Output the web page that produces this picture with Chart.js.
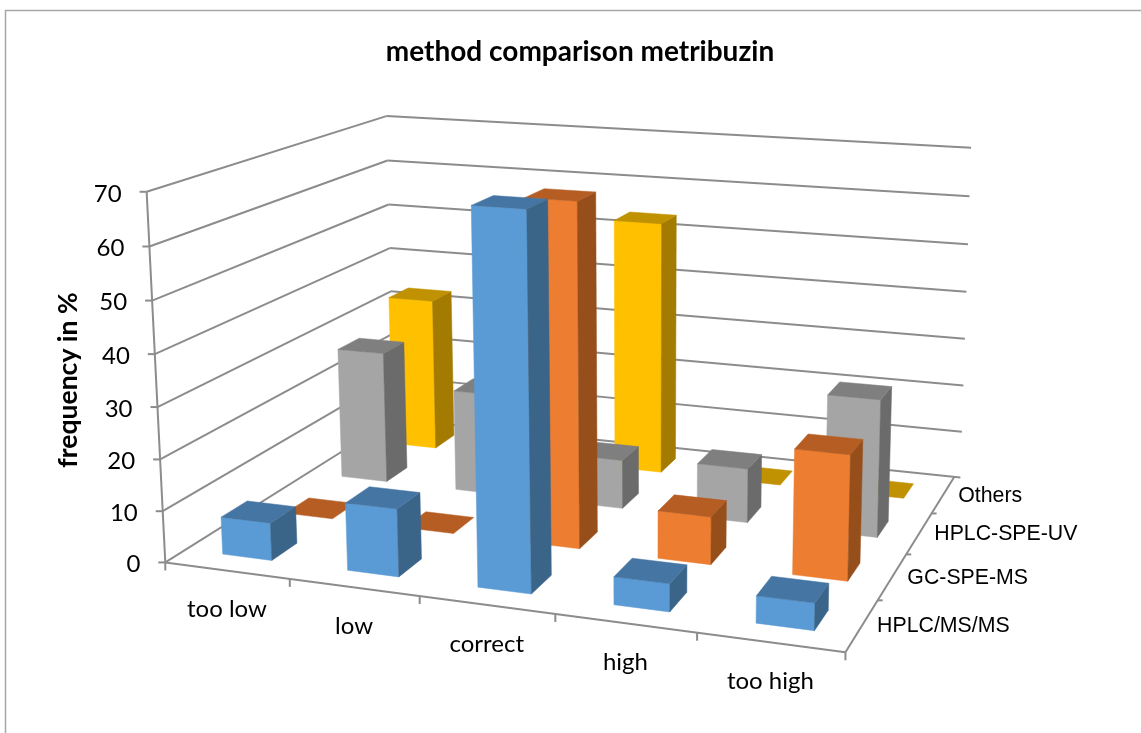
<!DOCTYPE html>
<html>
<head>
<meta charset="utf-8">
<title>method comparison metribuzin</title>
<script src="https://cdn.jsdelivr.net/npm/chart.js@4/dist/chart.umd.min.js"></script>
<style>
    html, body { margin: 0; padding: 0; background: #fff; }
    canvas { display: block; }
</style>
</head>
<body>
<canvas id="chart" width="1141" height="733"></canvas>
<script>
// Chart values
const categories = ['too low', 'low', 'correct', 'high', 'too high'];
const seriesNames = ['HPLC/MS/MS', 'GC-SPE-MS', 'HPLC-SPE-UV', 'Others'];
const hplcMsMs = [7.3, 13, 70, 5.2, 5];
const gcSpeMs = [0, 0, 67, 9.3, 24];
const hplcSpeUv = [27.5, 21, 10, 11, 27.5];
const others = [33, 0, 53.5, 0, 0];
const valueTicks = [0, 10, 20, 30, 40, 50, 60, 70];

// front, top, side colours of each series
const faceColors = [
    ['#5B9BD5', '#4575A3', '#3B6489'],
    ['#ED7D31', '#B55D23', '#964F1B'],
    ['#A5A5A5', '#7F7F7F', '#6B6B6B'],
    ['#FFC000', '#C09100', '#A37B00']
];
const gridColor = '#8C8C8C';

// Camera fit: where the plot box corners land on the page (across, depth, height -> px)
const frameAnchors = [
    [0, 0, 0, 165.7, 562.7], [0.2, 0, 0, 290, 580], [0.4, 0, 0, 419.3, 596.7],
    [0.6, 0, 0, 554.7, 614], [0.8, 0, 0, 695.7, 631.7], [1, 0, 0, 845, 651],
    [1, 0.5, 0, 910, 554], [1, 1, 0, 953.3, 477.7], [0, 1, 0, 394, 417],
    [0, 0, 0.5, 156.2, 381], [0, 0, 1, 146.7, 191.7], [0, 1, 1, 386.7, 115.3],
    [0, 1, 0.5, 390.2, 271], [1, 1, 1, 965, 147], [1, 1, 0.5, 959, 316]
];

function solveLinear(a, b) {
    const n = b.length;
    for (let i = 0; i < n; i++) {
        let best = i;
        for (let r = i + 1; r < n; r++) if (Math.abs(a[r][i]) > Math.abs(a[best][i])) best = r;
        [a[i], a[best]] = [a[best], a[i]];
        [b[i], b[best]] = [b[best], b[i]];
        for (let r = i + 1; r < n; r++) {
            const f = a[r][i] / a[i][i];
            for (let c = i; c < n; c++) a[r][c] -= f * a[i][c];
            b[r] -= f * b[i];
        }
    }
    const x = new Array(n).fill(0);
    for (let i = n - 1; i >= 0; i--) {
        let s = b[i];
        for (let c = i + 1; c < n; c++) s -= a[i][c] * x[c];
        x[i] = s / a[i][i];
    }
    return x;
}

// least squares for the 3x4 projection matrix, px are scaled down to keep it stable
function fitCamera(anchors) {
    const rows = [], rhs = [];
    anchors.forEach(([X, Y, Z, px, py]) => {
        const x = px / 1000, y = py / 1000;
        rows.push([X, Y, Z, 1, 0, 0, 0, 0, -x * X, -x * Y, -x * Z]);
        rhs.push(x);
        rows.push([0, 0, 0, 0, X, Y, Z, 1, -y * X, -y * Y, -y * Z]);
        rhs.push(y);
    });
    const ata = [], atb = [];
    for (let i = 0; i < 11; i++) {
        ata.push([]);
        atb.push(rows.reduce((s, r, k) => s + r[i] * rhs[k], 0));
        for (let j = 0; j < 11; j++) ata[i].push(rows.reduce((s, r) => s + r[i] * r[j], 0));
    }
    return solveLinear(ata, atb);
}

const cam = fitCamera(frameAnchors);

function project(u, v, z) {
    const w = cam[8] * u + cam[9] * v + cam[10] * z + 1;
    return {
        x: 1000 * (cam[0] * u + cam[1] * v + cam[2] * z + cam[3]) / w,
        y: 1000 * (cam[4] * u + cam[5] * v + cam[6] * z + cam[7]) / w
    };
}

function decimalOf(scale, value) {
    return scale.getDecimalForPixel(scale.getPixelForValue(value));
}

function drawLine(ctx, a, b) {
    ctx.beginPath();
    ctx.moveTo(a.x, a.y);
    ctx.lineTo(b.x, b.y);
    ctx.stroke();
}

function drawFace(ctx, points, color) {
    ctx.fillStyle = color;
    ctx.strokeStyle = color;
    ctx.lineWidth = 0.5;
    ctx.beginPath();
    points.forEach((p, i) => i ? ctx.lineTo(p.x, p.y) : ctx.moveTo(p.x, p.y));
    ctx.closePath();
    ctx.fill();
    ctx.stroke();
}

// Chart.js has no 3D bars, so the plugin draws them from the scales
const bars3d = {
    id: 'bars3d',
    afterDatasetsDraw(chart) {
        const ctx = chart.ctx;
        const { x: xs, y: ys, depth } = chart.scales;
        const halfU = 0.2 / categories.length;
        const halfV = 0.2 / seriesNames.length;

        ctx.save();

        // outer chart border
        ctx.strokeStyle = '#A6A6A6';
        ctx.lineWidth = 1.5;
        ctx.beginPath();
        ctx.moveTo(5.5, 733);
        ctx.lineTo(5.5, 10.5);
        ctx.lineTo(1141, 10.5);
        ctx.stroke();

        // walls
        ctx.strokeStyle = gridColor;
        ctx.lineWidth = 2;
        valueTicks.forEach(t => {
            const z = decimalOf(ys, t);
            const a = project(0, 0, z), b = project(0, 1, z), c = project(1, 1, z);
            drawLine(ctx, { x: a.x - 7, y: a.y }, a);
            drawLine(ctx, a, b);
            drawLine(ctx, b, { x: c.x + 6, y: c.y + (c.y - b.y) * 6 / (c.x - b.x) });
        });
        drawLine(ctx, project(0, 0, 0), project(0, 0, 1));

        // floor edges and their ticks
        drawLine(ctx, project(0, 0, 0), project(1, 0, 0));
        drawLine(ctx, project(1, 0, 0), project(1, 1, 0));
        for (let i = 0; i <= categories.length; i++) {
            const p = project(i / categories.length, 0, 0);
            drawLine(ctx, p, { x: p.x, y: p.y + 8 });
        }
        for (let i = 1; i < seriesNames.length; i++) {
            const p = project(1, i / seriesNames.length, 0);
            drawLine(ctx, p, { x: p.x + 5, y: p.y });
        }

        // back row first, left to right inside a row
        for (let s = chart.data.datasets.length - 1; s >= 0; s--) {
            const v = decimalOf(depth, s);
            const colors = faceColors[s];
            chart.data.datasets[s].data.forEach((val, i) => {
                // small drift, the camera fit lands the right hand bars a bit short
                const u = decimalOf(xs, i) * 1.005;
                const z = decimalOf(ys, val);
                const l = u - halfU, r = u + halfU, f = v - halfV, b = v + halfV;
                if (val > 0) {
                    drawFace(ctx, [project(l, f, 0), project(r, f, 0), project(r, f, z), project(l, f, z)], colors[0]);
                    drawFace(ctx, [project(r, f, 0), project(r, b, 0), project(r, b, z), project(r, f, z)], colors[2]);
                }
                drawFace(ctx, [project(l, f, z), project(r, f, z), project(r, b, z), project(l, b, z)], colors[1]);
            });
        }

        // axis text
        ctx.fillStyle = '#000';
        ctx.textBaseline = 'middle';
        ctx.font = '24px Lato';
        ctx.textAlign = 'right';
        valueTicks.forEach(t => {
            const p = project(0, 0, decimalOf(ys, t));
            ctx.fillText(String(t), p.x - 25, p.y + 2);
        });
        ctx.textAlign = 'center';
        categories.forEach((name, i) => {
            const p = project(decimalOf(xs, i), 0, 0);
            ctx.fillText(name, p.x, p.y + 39);
        });
        ctx.font = '21.3px "Liberation Sans"';
        ctx.textAlign = 'left';
        seriesNames.forEach((name, s) => {
            const p = project(1, decimalOf(depth, s), 0);
            ctx.fillText(name, p.x + 15, p.y + 1);
        });

        ctx.font = 'bold 26.5px Lato';
        ctx.textAlign = 'center';
        ctx.translate(68, 380);
        ctx.rotate(-Math.PI / 2);
        ctx.fillText('frequency in %', 0, 0);

        ctx.restore();
    }
};

new Chart(document.getElementById('chart').getContext('2d'), {
    type: 'bar',
    data: {
        labels: categories,
        datasets: [
            { label: seriesNames[0], data: hplcMsMs, backgroundColor: 'transparent' },
            { label: seriesNames[1], data: gcSpeMs, backgroundColor: 'transparent' },
            { label: seriesNames[2], data: hplcSpeUv, backgroundColor: 'transparent' },
            { label: seriesNames[3], data: others, backgroundColor: 'transparent' }
        ]
    },
    options: {
        responsive: false,
        animation: false,
        layout: { padding: { left: 19 } },
        scales: {
            x: { display: false },
            y: { display: false, min: 0, max: 70 },
            depth: { type: 'category', axis: 'x', labels: seriesNames, offset: true, display: false }
        },
        plugins: {
            legend: { display: false },
            tooltip: { enabled: false },
            title: {
                display: true,
                text: 'method comparison metribuzin',
                color: '#000',
                font: { family: 'Lato', size: 28, weight: 'bold' },
                padding: { top: 35, bottom: 10 }
            }
        }
    },
    plugins: [bars3d]
});
</script>
</body>
</html>
